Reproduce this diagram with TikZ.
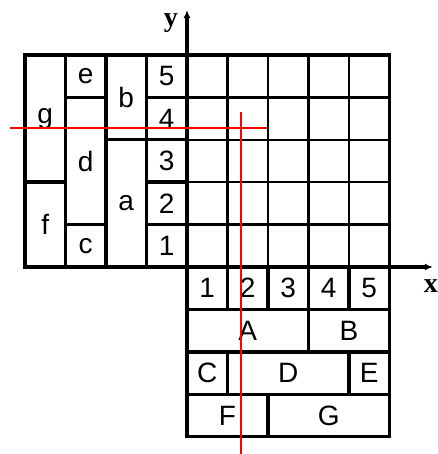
\documentclass[tikz,border=0pt]{standalone}
\usepackage{fontspec}
\setmainfont{Liberation Sans}
\newfontfamily\axisfont{Liberation Serif}
\usetikzlibrary{arrows.meta}
\tikzset{
  blk/.style 2 args={draw, line width=3.4pt, inner sep=0pt,
    minimum width=#1*40.5pt, minimum height=#2*42.4pt,
    font=\fontsize{28}{28}\selectfont},
  gridline/.style={line width=2.4pt},
  axis/.style={line width=3.4pt, -{Latex[length=8pt,width=7pt]}},
  axislabel/.style={font=\axisfont\bfseries\fontsize{28}{28}\selectfont},
  cut/.style={red, line width=1.8pt},
}
\begin{document}
\begin{tikzpicture}[x=40.5pt, y=42.4pt]
\useasboundingbox (-4.617,-4.410) rectangle (6.173,6.297);
% grid in the first quadrant
\foreach \i in {1,...,4} {
  \draw[gridline] (\i,0) -- (\i,5);
  \draw[gridline] (0,\i) -- (5,\i);
}
\draw[line width=3.4pt] (0,0) rectangle (5,5);
% blocks on the left
\foreach \n in {1,...,5}
  \node[blk={1}{1}] (n\n) at (-0.5,\n-0.5) {\n};
\node[blk={1}{2}] (b) at (-1.5,4) {b};
\node[blk={1}{3}] (a) at (-1.5,1.5) {a};
\node[blk={1}{1}] (e) at (-2.5,4.5) {e};
\node[blk={1}{3}] (d) at (-2.5,2.5) {d};
\node[blk={1}{1}] (c) at (-2.5,0.5) {c};
\node[blk={1}{3}] (g) at (-3.5,3.5) {g};
\node[blk={1}{2}] (f) at (-3.5,1) {f};
% blocks below
\foreach \n in {1,...,5}
  \node[blk={1}{1}] (m\n) at (\n-0.5,-0.5) {\n};
\node[blk={3}{1}] (A) at (1.5,-1.5) {A};
\node[blk={2}{1}] (B) at (4,-1.5) {B};
\node[blk={1}{1}] (C) at (0.5,-2.5) {C};
\node[blk={3}{1}] (D) at (2.5,-2.5) {D};
\node[blk={1}{1}] (E) at (4.5,-2.5) {E};
\node[blk={2}{1}] (F) at (1,-3.5) {F};
\node[blk={3}{1}] (G) at (3.5,-3.5) {G};
% axes
\coordinate (xs) at (-4,0);
\coordinate (xe) at (6.07,0);
\coordinate (ys) at (0,-4);
\coordinate (ye) at (0,6.06);
\draw[axis] (xs) -- (xe);
\draw[axis] (ys) -- (ye);
\node[axislabel] (xl) at (6.02,-0.45) {x};
\node[axislabel] (yl) at (-0.40,5.75) {y};
% red lines
\coordinate (h1) at (-4.37,3.285);
\coordinate (h2) at (1.98,3.285);
\coordinate (v1) at (1.326,3.656);
\coordinate (v2) at (1.326,-4.41);
\draw[cut] (h1) -- (h2);
\draw[cut] (v1) -- (v2);
\end{tikzpicture}
\end{document}
